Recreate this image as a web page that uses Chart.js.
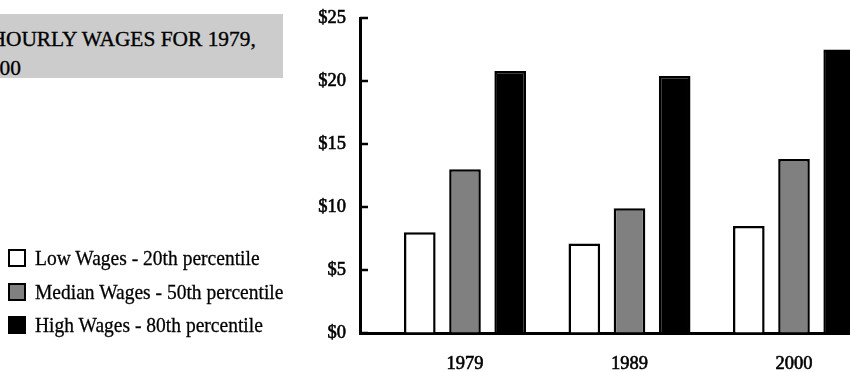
<!DOCTYPE html>
<html>
<head>
<meta charset="utf-8">
<script src="https://cdn.jsdelivr.net/npm/chart.js@4/dist/chart.umd.min.js"></script>
<style>
  html, body { margin: 0; padding: 0; background: #fff; }
  body { width: 850px; height: 372px; overflow: hidden; position: relative; font-family: "Liberation Serif", serif; color: #000; }
  #chart { position: absolute; left: 0; top: 0; }
  .title-box { position: absolute; left: -20px; top: 14px; width: 303px; height: 64px; background: #cccccc; }
  .title-line { position: absolute; white-space: nowrap; font-size: 21.4px; line-height: 29px; -webkit-text-stroke: 0.35px #000; }
  .legend-row { position: absolute; left: 8px; height: 24px; display: flex; align-items: center; white-space: nowrap; }
  .legend-swatch { width: 18px; height: 18px; box-sizing: border-box; border: 2.5px solid #000; margin-right: 9px; flex: none; }
  .legend-text { display: inline-block; font-size: 22px; line-height: 24px; transform: scaleX(0.887); transform-origin: 0 50%; -webkit-text-stroke: 0.3px #000; }
</style>
</head>
<body>
<div class="title-box"></div>
<div class="title-line" id="title1" style="left:-9.5px; top:25px;"></div>
<div class="title-line" id="title2" style="right:829px; top:54px;"></div>
<canvas id="chart" width="850" height="372"></canvas>
<div id="legend"></div>
<script>
// Hourly wages by percentile, in dollars
const years = ['1979', '1989', '2000'];
const seriesNames = ['Low Wages - 20th percentile', 'Median Wages - 50th percentile', 'High Wages - 80th percentile'];
const lowWages = [8.0, 7.1, 8.5];
const medianWages = [13.0, 9.9, 13.8];
const highWages = [20.8, 20.4, 22.5];
const yTickValues = [0, 5, 10, 15, 20, 25];
const titleLines = ['HOURLY WAGES FOR 1979,', '1989, AND 2000'];

const fills = ['#ffffff', '#808080', '#000000'];
const seriesValues = [lowWages, medianWages, highWages];

document.getElementById('title1').textContent = titleLines[0];
document.getElementById('title2').textContent = titleLines[1];

// legend built from the series names and fills
const legend = document.getElementById('legend');
const rowCenters = [258, 291.5, 325];
seriesNames.forEach((name, i) => {
  const row = document.createElement('div');
  row.className = 'legend-row';
  row.style.top = (rowCenters[i] - 12) + 'px';
  const sw = document.createElement('span');
  sw.className = 'legend-swatch';
  sw.style.background = fills[i];
  const label = document.createElement('span');
  label.className = 'legend-text';
  label.textContent = name;
  row.appendChild(sw);
  row.appendChild(label);
  legend.appendChild(row);
});

Chart.defaults.font.family = '"Liberation Serif", serif';
Chart.defaults.color = '#000';

// short tick marks pointing into the plot from the value axis
const inwardTicks = {
  id: 'inwardTicks',
  afterDraw(chart) {
    const y = chart.scales.y;
    const ctx = chart.ctx;
    ctx.save();
    ctx.strokeStyle = '#000';
    ctx.lineWidth = 2.5;
    y.ticks.forEach(t => {
      const py = y.getPixelForValue(t.value);
      ctx.beginPath();
      ctx.moveTo(y.right, py);
      ctx.lineTo(y.right + 8, py);
      ctx.stroke();
    });
    ctx.restore();
  }
};

const datasets = seriesValues.map((vals, i) => ({
  label: seriesNames[i],
  data: vals.map((v, j) => ({ x: j, y: v })),
  backgroundColor: fills[i],
  borderColor: '#000',
  borderWidth: 2.5,
  categoryPercentage: 0.824,
  barPercentage: 0.70
}));

new Chart(document.getElementById('chart'), {
  type: 'bar',
  data: { datasets },
  plugins: [inwardTicks],
  options: {
    responsive: false,
    animation: false,
    layout: { padding: { left: 0, right: 0, top: 18, bottom: 0 } },
    plugins: { legend: { display: false }, tooltip: { enabled: false } },
    scales: {
      x: {
        type: 'linear',
        offset: false,
        min: -0.6383,
        max: 2.3404,
        afterBuildTicks: (scale) => { scale.ticks = years.map((_, i) => ({ value: i })); },
        afterFit: (scale) => { scale.height = 39; scale.paddingLeft = 0; scale.paddingRight = 0; },
        grid: { display: true, drawOnChartArea: false, drawTicks: false, offset: false },
        border: { display: true, color: '#000', width: 3 },
        ticks: {
          autoSkip: false,
          maxRotation: 0,
          padding: 20,
          font: { size: 18.5 },
          textStrokeColor: '#000',
          textStrokeWidth: 0.6,
          callback: (v) => years[v]
        }
      },
      y: {
        min: 0,
        max: 25,
        afterBuildTicks: (scale) => { scale.ticks = yTickValues.map(v => ({ value: v })); },
        afterFit: (scale) => { scale.width = 360; scale.paddingTop = 0; scale.paddingBottom = 0; },
        grid: { display: true, drawOnChartArea: false, drawTicks: false },
        border: { display: true, color: '#000', width: 3 },
        ticks: {
          padding: 14,
          font: { size: 18.5 },
          textStrokeColor: '#000',
          textStrokeWidth: 0.6,
          callback: (v) => '$' + v
        }
      }
    }
  }
});
</script>
</body>
</html>
